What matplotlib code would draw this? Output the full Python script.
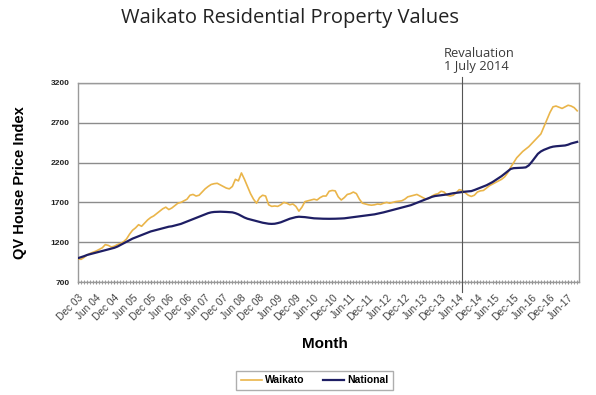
import matplotlib
matplotlib.use("Agg")
import matplotlib.pyplot as plt
import numpy as np

tick_labels = ["Dec 03", "Jun 04", "Dec 04", "Jun 05", "Dec 05", "Jun 06", "Dec 06",
               "Jun 07", "Dec 07", "Jun 08", "Dec 08", "Jun-09", "Dec-09", "Jun-10",
               "Dec-10", "Jun-11", "Dec-11", "Jun-12", "Dec-12", "Jun-13", "Dec-13",
               "Jun-14", "Dec-14", "Jun-15", "Dec-15", "Jun-16", "Dec-16", "Jun-17"]

national = [1000, 1012, 1025, 1040, 1050, 1060, 1070, 1080,
            1090, 1100, 1110, 1120, 1130, 1145, 1165, 1185, 1205,
            1225, 1245, 1260, 1275, 1290, 1305, 1320, 1335, 1345,
            1355, 1365, 1375, 1385, 1395, 1400, 1410, 1420, 1430,
            1445, 1460, 1475, 1490, 1505, 1520, 1535, 1550, 1565, 1575, 1580,
            1582, 1583, 1582, 1580, 1578, 1575,
            1565, 1550, 1530, 1510, 1495, 1485, 1475,
            1465, 1455, 1445, 1438, 1432, 1430, 1432,
            1440, 1450, 1465, 1480, 1495, 1505, 1515, 1520,
            1518, 1515, 1510, 1505, 1500, 1498, 1496, 1495, 1494, 1494, 1494, 1495, 1496, 1498, 1500, 1505, 1510,
            1515, 1520, 1525, 1530, 1535, 1540, 1545, 1550, 1558, 1566, 1575,
            1585, 1595, 1605, 1615, 1625, 1635, 1645, 1655, 1665, 1680, 1695,
            1710, 1725, 1740, 1755, 1770, 1780, 1785, 1790, 1795,
            1800, 1808, 1815, 1820, 1825, 1830, 1835, 1838, 1842,
            1855, 1870, 1885, 1900, 1915, 1935, 1955, 1980, 2005, 2030, 2060, 2090, 2120,
            2130, 2132, 2134, 2136, 2140, 2165,
            2210, 2260, 2310, 2340, 2360, 2375, 2390, 2400,
            2405, 2408, 2410, 2415, 2425, 2440, 2450, 2460]

waikato = [990, 985, 1010, 1040, 1060, 1075, 1090, 1110, 1130,
           1170, 1160, 1140, 1150,
           1170, 1185, 1205, 1240, 1300,
           1350, 1380, 1420, 1400, 1440, 1480, 1510,
           1530, 1560, 1590, 1620, 1640, 1610, 1630, 1660, 1690,
           1700, 1720, 1740, 1790, 1800, 1780, 1790, 1830, 1870, 1900, 1925,
           1935, 1940, 1920, 1900, 1880, 1870, 1900, 1990, 1970,
           2070, 1990, 1900, 1810, 1740,
           1690, 1760, 1790, 1780, 1670, 1650, 1655,
           1650, 1670, 1700, 1690, 1670, 1680, 1650, 1590,
           1640, 1710, 1720, 1730, 1740, 1730, 1760, 1780, 1780,
           1840, 1850, 1845, 1770, 1730, 1760, 1800, 1810, 1830, 1810,
           1740, 1690, 1680, 1670, 1665, 1670, 1680, 1675, 1690, 1700, 1690,
           1700, 1710, 1715, 1720, 1740, 1770, 1780, 1790, 1800,
           1780, 1760, 1740, 1750, 1780, 1800, 1810, 1840, 1830,
           1790, 1780, 1790, 1820, 1860, 1850, 1820, 1790, 1775,
           1790, 1830, 1845, 1850, 1880, 1910, 1930, 1950, 1970, 1990, 2020, 2070, 2140,
           2200, 2260, 2300, 2340, 2370, 2400,
           2440, 2480, 2520, 2560, 2650, 2740, 2830, 2900,
           2910, 2895, 2880, 2900, 2920, 2910, 2890, 2850]

y_ticks = [700, 1200, 1700, 2200, 2700, 3200]
revaluation_month = 127

months = np.arange(len(national))
tick_pos = np.arange(0, 6 * len(tick_labels), 6)

fig = plt.figure(figsize=(5.96, 3.95), dpi=100)
ax = fig.add_axes([0.131, 0.286, 0.840, 0.504])

for y in y_ticks:
    ax.axhline(y, color="#8c8c8c", lw=1.0, zorder=1)

ax.plot(months, waikato, color="#EAB54A", lw=1.2, zorder=3, label="Waikato")
ax.plot(months, national, color="#1E1E64", lw=1.6, zorder=4, label="National")

ax.set_xlim(0, len(national) - 0.5)
ax.set_ylim(700, 3200)
ax.set_yticks(y_ticks)
ax.set_yticklabels([str(v) for v in y_ticks], fontsize=6, fontweight="bold",
                   family="Liberation Sans", color="#222222")
ax.tick_params(axis="y", length=0, pad=6)

ax.set_xticks(tick_pos)
ax.set_xticklabels(tick_labels, rotation=45, ha="right", rotation_mode="anchor",
                   fontsize=7.3, family="Liberation Sans", color="#444444")
ax.set_xticks(months, minor=True)
ax.tick_params(axis="x", which="both", length=3, color="#8c8c8c", direction="inout", pad=6)

for s in ax.spines.values():
    s.set_color("#9a9a9a")
    s.set_linewidth(1.0)

# revaluation line
ax.axvline(revaluation_month, ymin=-0.05, ymax=1.03, color="#555555", lw=0.8,
           clip_on=False, zorder=5)
ax.text(revaluation_month - 6, 3320, "Revaluation\n1 July 2014", fontsize=9.3,
        family="Open Sans", color="#3a3a3a", ha="left", va="bottom", linespacing=1.05)

ax.set_ylabel("QV House Price Index", fontsize=10.5, fontweight="bold",
              family="Liberation Sans", labelpad=17)
fig.text(0.545, 0.13, "Month", ha="center", va="center", fontsize=11,
         fontweight="bold", family="Liberation Sans")
fig.text(0.487, 0.955, "Waikato Residential Property Values", ha="center", va="center",
         fontsize=14.5, family="Open Sans", color="#222222")

leg = fig.legend(loc="center", bbox_to_anchor=(0.528, 0.037), ncol=2, frameon=True,
                 fancybox=False, edgecolor="#9a9a9a",
                 prop={"family": "Liberation Sans", "weight": "bold", "size": 7.5},
                 handlelength=2.0, handletextpad=0.3, columnspacing=1.8,
                 borderpad=0.45)

fig.savefig("out.png", dpi=100)
